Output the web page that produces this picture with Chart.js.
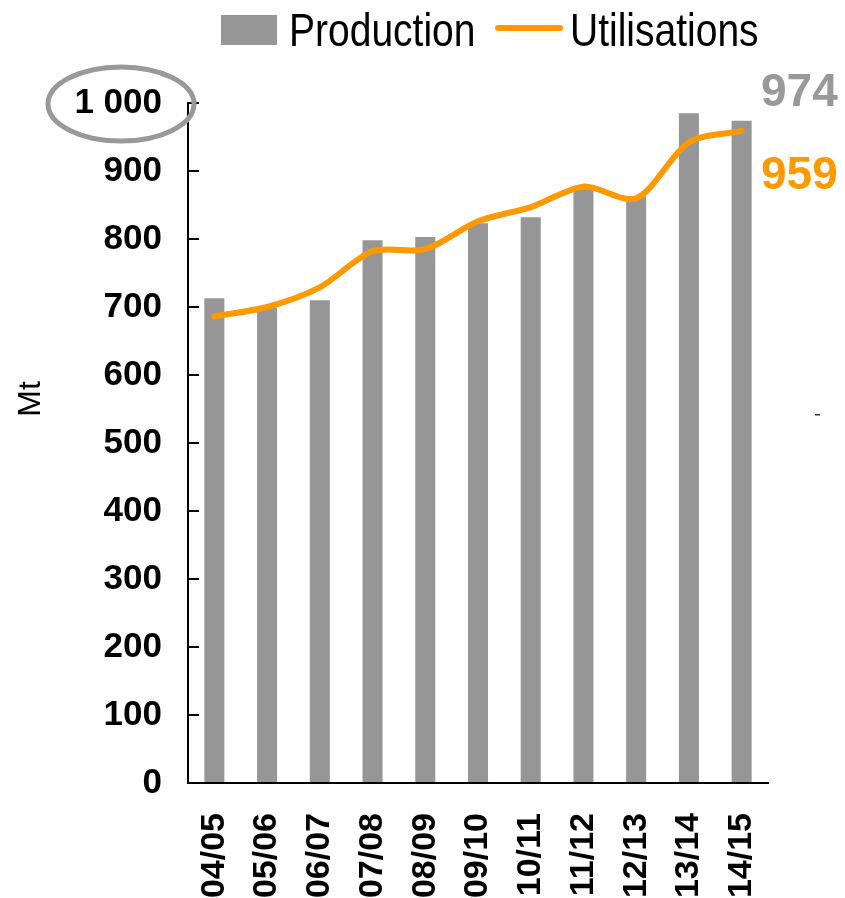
<!DOCTYPE html>
<html>
<head>
<meta charset="utf-8">
<script src="https://cdn.jsdelivr.net/npm/chart.js@4.4.1/dist/chart.umd.min.js"></script>
<style>
  html, body { margin: 0; padding: 0; background: #fff; }
  #wrap { width: 845px; height: 898px; position: relative; }
</style>
</head>
<body>
<div id="wrap"><canvas id="prodChart"></canvas></div>
<script>
const categories = ['04/05', '05/06', '06/07', '07/08', '08/09', '09/10', '10/11', '11/12', '12/13', '13/14', '14/15'];
const production = [713, 699, 710, 798, 803, 823, 832, 877, 863, 985, 974];
const utilisations = [686, 700, 729, 782, 785, 826, 847, 877, 860, 942, 959];
const yTickLabels = ['0', '100', '200', '300', '400', '500', '600', '700', '800', '900', '1 000'];

const GREY = '#969696';
const ORANGE = '#FF9900';
const FONT = '"Liberation Sans", Arial, sans-serif';

// texte etroit facon Arial Narrow : on compresse la police horizontalement
function narrowText(ctx, text, x, y) {
    ctx.save();
    ctx.translate(x, y);
    ctx.scale(0.83, 1);
    ctx.fillText(text, 0, 0);
    ctx.restore();
}

// legende, titre "Mt", valeurs finales et ellipse autour de 1 000
const extras = {
    id: 'extras',
    afterDraw(chart) {
        const ctx = chart.ctx;
        const y = chart.scales.y;
        ctx.save();

        // legende
        ctx.fillStyle = GREY;
        ctx.fillRect(221, 15, 56, 30);
        ctx.fillStyle = '#000';
        ctx.font = '47px ' + FONT;
        ctx.textBaseline = 'alphabetic';
        ctx.textAlign = 'left';
        narrowText(ctx, 'Production', 289, 46);
        ctx.strokeStyle = ORANGE;
        ctx.lineWidth = 6;
        ctx.lineCap = 'round';
        ctx.beginPath();
        ctx.moveTo(498, 28);
        ctx.lineTo(560, 28);
        ctx.stroke();
        narrowText(ctx, 'Utilisations', 570, 46);

        // titre de l'axe
        ctx.save();
        ctx.translate(31, 399);
        ctx.rotate(-Math.PI / 2);
        ctx.textAlign = 'center';
        ctx.textBaseline = 'middle';
        ctx.font = '32px ' + FONT;
        ctx.fillText('Mt', 0, 0);
        ctx.restore();

        // valeurs finales
        ctx.font = 'bold 46px ' + FONT;
        ctx.textBaseline = 'alphabetic';
        ctx.fillStyle = '#999999';
        ctx.fillText(String(production[production.length - 1]), 761, 106);
        ctx.fillStyle = ORANGE;
        ctx.fillText(String(utilisations[utilisations.length - 1]), 761, 189);

        // ellipse autour du 1 000
        ctx.strokeStyle = '#999999';
        ctx.lineWidth = 5;
        ctx.beginPath();
        ctx.ellipse(121, y.getPixelForValue(1000) + 1, 73, 37, 0, 0, Math.PI * 2);
        ctx.stroke();

        // petit tiret a droite
        ctx.fillStyle = '#333';
        ctx.fillRect(815, 414, 5, 1.5);

        ctx.restore();
    }
};

const ctx = document.getElementById('prodChart').getContext('2d');

new Chart(ctx, {
    data: {
        labels: categories,
        datasets: [
            {
                type: 'line',
                label: 'Utilisations',
                data: utilisations,
                borderColor: ORANGE,
                borderWidth: 6,
                borderCapStyle: 'round',
                borderJoinStyle: 'round',
                tension: 0.3,
                pointRadius: 0,
                fill: false,
                order: 0
            },
            {
                type: 'bar',
                label: 'Production',
                data: production,
                backgroundColor: GREY,
                barPercentage: 0.76,
                categoryPercentage: 0.5,
                order: 1
            }
        ]
    },
    options: {
        responsive: true,
        maintainAspectRatio: false,
        animation: false,
        layout: { padding: { top: 103, right: 77, left: 0, bottom: 0 } },
        plugins: {
            legend: { display: false },
            tooltip: { enabled: false }
        },
        scales: {
            x: {
                offset: true,
                grid: { display: false },
                border: { display: true, color: '#000', width: 2 },
                ticks: {
                    color: '#000',
                    font: { family: FONT, size: 34, weight: 'bold' },
                    minRotation: 90,
                    maxRotation: 90,
                    padding: 22,
                    autoSkip: false
                },
                afterFit(scale) { scale.height = 115; }
            },
            y: {
                min: 0,
                max: 1000,
                grid: {
                    display: true,
                    drawOnChartArea: false,
                    drawTicks: true,
                    tickLength: -11,
                    color: '#000',
                    lineWidth: 2
                },
                border: { display: true, color: '#000', width: 2 },
                ticks: {
                    stepSize: 100,
                    color: '#000',
                    padding: 37,
                    font: { family: FONT, size: 35, weight: 'bold' },
                    callback: function (value, index) {
                        return yTickLabels[index];
                    }
                },
                afterFit(scale) { scale.width = 188; }
            }
        }
    },
    plugins: [extras]
});
</script>
</body>
</html>
